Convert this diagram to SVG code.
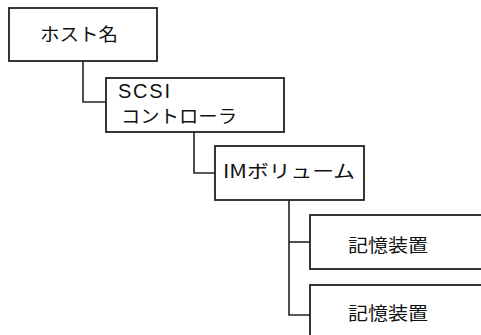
<svg xmlns="http://www.w3.org/2000/svg" width="481" height="335" viewBox="0 0 481 335">
<style>
.box{fill:#fff;stroke:#222;stroke-width:1.8}
.ln{fill:none;stroke:#222;stroke-width:1.6}
.t{font-family:"Noto Sans CJK JP","Liberation Sans",sans-serif;font-size:18px;fill:#111}
.l{font-family:"Liberation Sans","Noto Sans CJK JP",sans-serif;font-size:20px;fill:#111}
</style>
<rect width="481" height="335" fill="#fff"/>
<g id="connectors">
<polyline class="ln" points="83,61 83,102 106,102"/>
<polyline class="ln" points="194,132 194,173 215,173"/>
<polyline class="ln" points="289,200 289,315 310,315"/>
<line class="ln" x1="289" y1="242" x2="310" y2="242"/>
</g>
<g id="host">
<rect class="box" x="9" y="8" width="148" height="53"/>
<text class="t" x="40" y="41" textLength="78" lengthAdjust="spacingAndGlyphs">ホスト名</text>
</g>
<g id="scsi">
<rect class="box" x="106" y="78" width="178" height="54"/>
<text class="l" x="118" y="98" textLength="52" lengthAdjust="spacing">SCSI</text>
<text class="t" x="121" y="123" textLength="116" lengthAdjust="spacingAndGlyphs">コントローラ</text>
</g>
<g id="im">
<rect class="box" x="215" y="146" width="149" height="54"/>
<text class="t" x="223" y="178" textLength="132" lengthAdjust="spacingAndGlyphs">IMボリューム</text>
</g>
<g id="disk1">
<rect class="box" x="310" y="215" width="180" height="54"/>
<text class="t" x="348" y="252" textLength="80" lengthAdjust="spacingAndGlyphs">記憶装置</text>
</g>
<g id="disk2">
<rect class="box" x="310" y="285" width="180" height="60"/>
<text class="t" x="348" y="320" textLength="80" lengthAdjust="spacingAndGlyphs">記憶装置</text>
</g>
</svg>
